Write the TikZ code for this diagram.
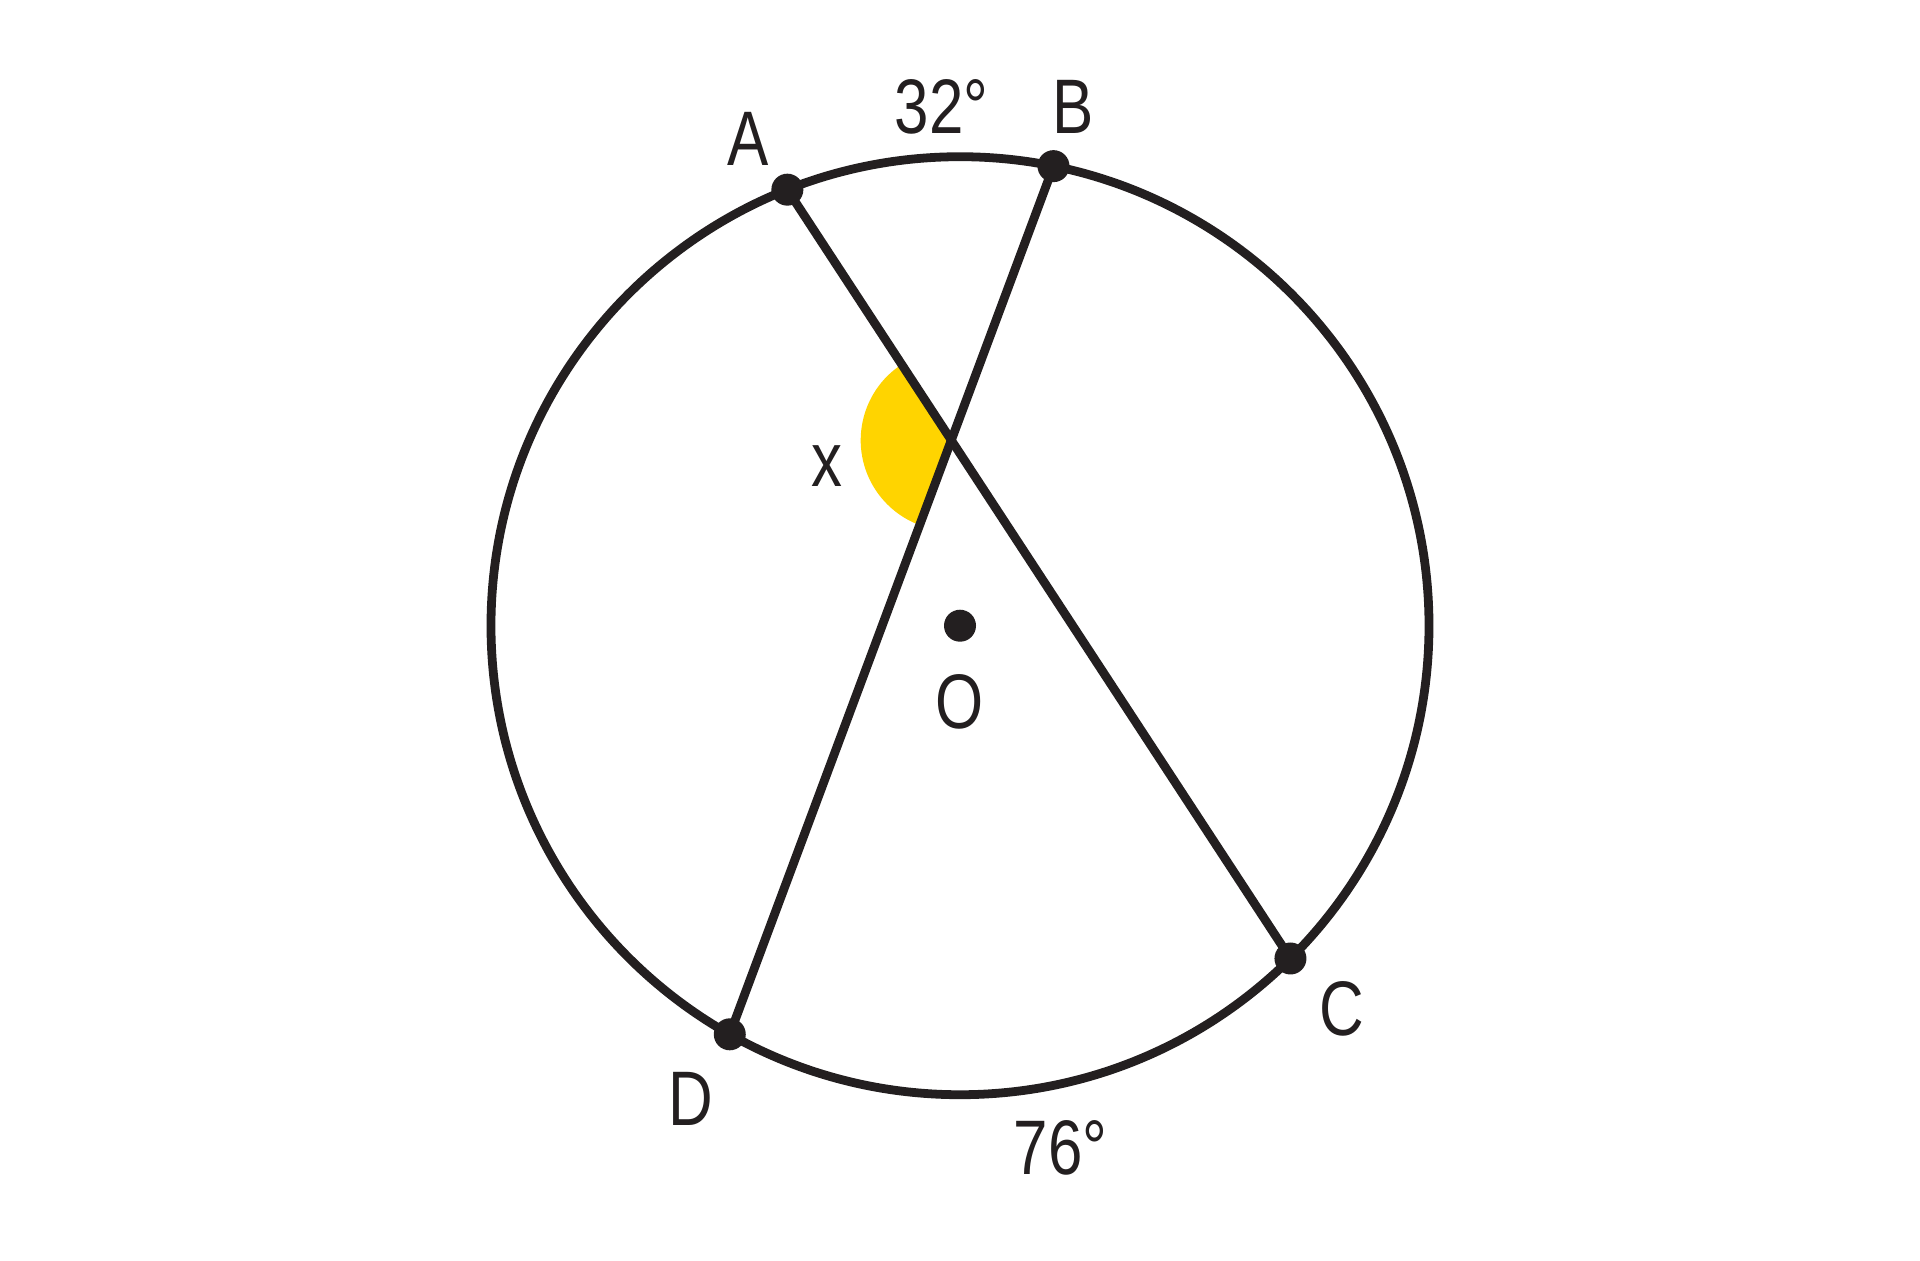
\documentclass[tikz,border=0pt]{standalone}
\usepackage{fontspec}
\setmainfont{Liberation Sans}[FakeStretch=0.8]
\usepackage{tikz}
\definecolor{lcol}{HTML}{231F20}
\definecolor{ycol}{HTML}{FFD400}
\tikzset{
  chord/.style={lcol,line width=2.5pt},
  ptdot/.style={lcol},
  lbl/.style={lcol,font=\fontsize{22}{26}\selectfont,inner sep=0pt}
}

\begin{document}
\begin{tikzpicture}
\useasboundingbox (-9.60,-6.343) rectangle (9.60,6.257);
\coordinate (O) at (0,0);
\coordinate (A) at (111.6:4.69);
\coordinate (B) at (78.5:4.69);
\coordinate (C) at (-45.2:4.69);
\coordinate (D) at (240.6:4.69);
\coordinate (X) at (intersection of A--C and B--D);
\fill[ycol] (X) -- ++(123.2:0.906) arc (123.2:249.55:0.906) -- cycle;
\draw[chord] (O) circle (4.69);
\draw[chord] (A) -- (C);
\draw[chord] (B) -- (D);
\foreach \p in {A,B,C,D} \fill[ptdot] (\p) circle (0.16);
\fill[ptdot] (O) circle (0.16);
\node[lbl] (lA) at (-2.118,4.873) {A};
\node[lbl] (lB) at (1.127,5.192) {B};
\node[lbl] (lC) at (3.821,-3.833) {C};
\node[lbl] (lD) at (-2.694,-4.727) {D};
\node[lbl] (lO) at (0,-0.759) {O};
\node[lbl] (lx) at (-1.335,1.592) {x};
\node[lbl] (arcAB) at (-0.184,5.192) {32°};
\node[lbl] (arcDC) at (1.004,-5.217) {76°};
\end{tikzpicture}
\end{document}
